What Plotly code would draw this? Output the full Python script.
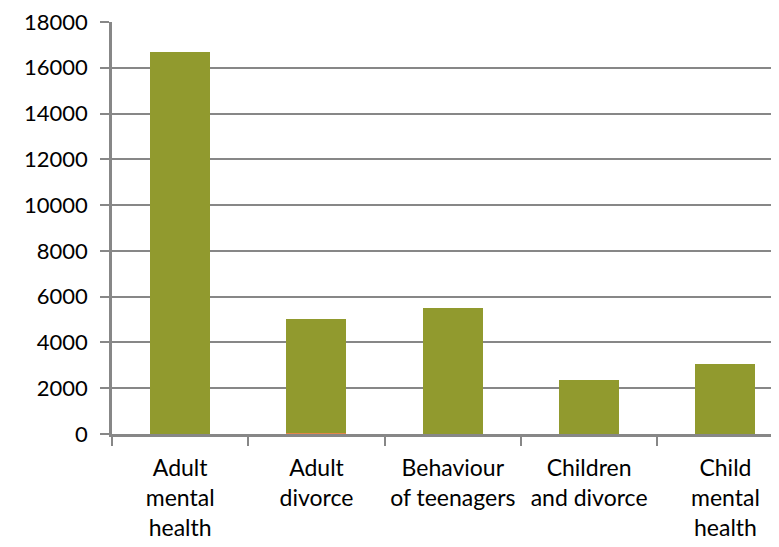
import plotly.graph_objects as go

categories = ["Adult<br>mental<br>health", "Adult<br>divorce", "Behaviour<br>of teenagers",
              "Children<br>and divorce", "Child<br>mental<br>health"]
minor_values = [0, 60, 0, 0, 0]
main_values = [16700, 4950, 5500, 2340, 3070]
y_ticks = [0, 2000, 4000, 6000, 8000, 10000, 12000, 14000, 16000, 18000]

GRAY = "#878787"
FONT = "Lato"

fig = go.Figure()
fig.add_trace(go.Bar(x=categories, y=minor_values, marker=dict(color="#E3874A", line=dict(width=0)),
                     showlegend=False))
fig.add_trace(go.Bar(x=categories, y=main_values, marker=dict(color="#919A2E", line=dict(width=0)),
                     showlegend=False))

fig.update_layout(
    width=771, height=539,
    margin=dict(l=104, r=0, t=10, b=113),
    barmode="stack",
    bargap=0.56,
    paper_bgcolor="white",
    plot_bgcolor="white",
    font=dict(family=FONT, size=22, color="black"),
    showlegend=False,
)
fig.update_xaxes(
    type="category",
    range=[-0.5, 4.393],
    tickson="boundaries",
    ticks="outside", ticklen=9, tickwidth=2, tickcolor=GRAY,
    showline=True, linecolor=GRAY, linewidth=2.5,
    showgrid=False,
    ticklabelstandoff=12,
    tickfont=dict(family=FONT, size=23, color="black"),
)
fig.update_yaxes(
    range=[0, 18000.5],
    tickvals=y_ticks,
    ticktext=[str(v) for v in y_ticks],
    ticks="outside", ticklen=9, tickwidth=2, tickcolor=GRAY,
    showline=True, linecolor=GRAY, linewidth=2.5,
    showgrid=True, gridcolor=GRAY, gridwidth=2,
    zeroline=False,
    ticklabelstandoff=8,
    ticklabeloverflow="allow",
    tickfont=dict(family=FONT, size=22, color="black"),
)

fig.write_html("out.html")
